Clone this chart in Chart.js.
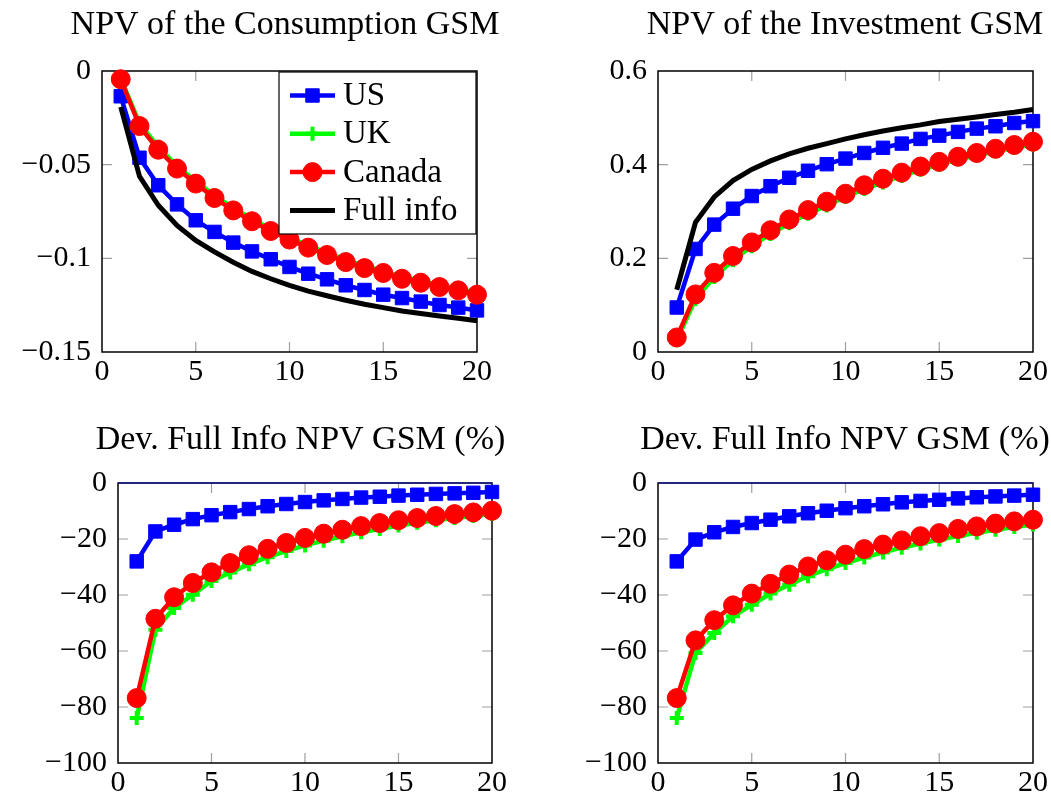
<!DOCTYPE html>
<html>
<head>
<meta charset="utf-8">
<script src="https://cdn.jsdelivr.net/npm/chart.js@4/dist/chart.umd.min.js"></script>
<style>
  body { margin: 0; background: #fff; width: 1051px; height: 797px; position: relative; overflow: hidden; }
  .panel { position: absolute; }
</style>
</head>
<body>
<div class="panel" style="left:0;top:0;width:600px;height:400px"><canvas id="c1"></canvas></div>
<div class="panel" style="left:540px;top:0;width:640px;height:400px"><canvas id="c2"></canvas></div>
<div class="panel" style="left:0;top:400px;width:620px;height:397px"><canvas id="c3"></canvas></div>
<div class="panel" style="left:540px;top:400px;width:640px;height:397px"><canvas id="c4"></canvas></div>
<script>
// horizon (x axis)
const steps = [1, 2, 3, 4, 5, 6, 7, 8, 9, 10, 11, 12, 13, 14, 15, 16, 17, 18, 19, 20];
const seriesNames = ["US", "UK", "Canada", "Full info"];

// NPV of the consumption GSM
const consUS = [-0.0135, -0.0463, -0.0610, -0.0712, -0.0797, -0.0859, -0.0916, -0.0963, -0.1005, -0.1046,
                -0.1082, -0.1112, -0.1144, -0.1169, -0.1194, -0.1212, -0.1231, -0.1249, -0.1263, -0.1278];
const consUK = [-0.0040, -0.0280, -0.0405, -0.0507, -0.0588, -0.0665, -0.0731, -0.0790, -0.0842, -0.0889,
                -0.0932, -0.0971, -0.1008, -0.1041, -0.1068, -0.1098, -0.1120, -0.1143, -0.1162, -0.1185];
const consCA = [-0.0044, -0.0294, -0.0420, -0.0521, -0.0601, -0.0678, -0.0744, -0.0802, -0.0854, -0.0900,
                -0.0943, -0.0982, -0.1020, -0.1052, -0.1078, -0.1109, -0.1130, -0.1153, -0.1171, -0.1194];
const consFull = [-0.0192, -0.0562, -0.0717, -0.0824, -0.0904, -0.0966, -0.1021, -0.1070, -0.1109, -0.1144,
                  -0.1175, -0.1200, -0.1224, -0.1245, -0.1263, -0.1281, -0.1295, -0.1308, -0.1320, -0.1333];

// NPV of the investment GSM
const invUS = [0.095, 0.220, 0.272, 0.306, 0.333, 0.354, 0.372, 0.387, 0.401, 0.413,
               0.425, 0.436, 0.445, 0.455, 0.462, 0.470, 0.477, 0.482, 0.489, 0.493];
const invUK = [0.025, 0.113, 0.160, 0.196, 0.226, 0.252, 0.275, 0.295, 0.313, 0.331,
               0.348, 0.362, 0.376, 0.389, 0.400, 0.411, 0.420, 0.428, 0.436, 0.443];
const invCA = [0.031, 0.123, 0.169, 0.205, 0.234, 0.260, 0.283, 0.303, 0.321, 0.338,
               0.356, 0.370, 0.383, 0.396, 0.406, 0.417, 0.425, 0.434, 0.442, 0.449];
const invFull = [0.133, 0.277, 0.331, 0.366, 0.390, 0.408, 0.423, 0.435, 0.445, 0.455,
                 0.464, 0.472, 0.479, 0.485, 0.492, 0.497, 0.502, 0.507, 0.512, 0.518];

// deviation from full info, consumption (%)
const devConsUS = [-28.0, -17.3, -14.9, -12.9, -11.5, -10.4, -9.3, -8.3, -7.5, -6.8,
                   -6.2, -5.7, -5.2, -4.9, -4.5, -4.2, -3.9, -3.7, -3.5, -3.2];
const devConsUK = [-83.9, -52.4, -44.6, -39.9, -35.0, -32.0, -29.0, -26.5, -24.3, -22.3,
                   -20.6, -19.0, -17.6, -16.4, -15.2, -14.2, -13.3, -12.5, -11.8, -11.1];
const devConsCA = [-76.8, -48.5, -40.8, -35.7, -31.9, -28.6, -25.8, -23.5, -21.4, -19.6,
                   -18.1, -16.7, -15.4, -14.3, -13.3, -12.5, -11.8, -11.1, -10.5, -9.9];

// deviation from full info, investment (%)
const devInvUS = [-28.0, -20.2, -17.6, -15.7, -14.3, -13.1, -11.9, -10.8, -9.9, -9.0,
                  -8.3, -7.6, -6.9, -6.4, -6.0, -5.5, -5.1, -4.8, -4.5, -4.2];
const devInvUK = [-83.9, -60.7, -53.6, -47.6, -43.5, -39.5, -36.3, -33.3, -30.8, -28.6,
                  -26.6, -24.8, -23.1, -21.6, -20.2, -18.9, -17.8, -16.7, -15.7, -14.8];
const devInvCA = [-76.8, -56.2, -49.0, -43.7, -39.5, -36.0, -32.7, -29.8, -27.6, -25.6,
                  -23.6, -22.0, -20.5, -19.0, -17.9, -16.4, -15.5, -14.5, -13.7, -13.1];

// tick values
const xTicks = [0, 5, 10, 15, 20];
const consTicks = [-0.15, -0.1, -0.05, 0];
const invTicks = [0, 0.2, 0.4, 0.6];
const devTicks = [-100, -80, -60, -40, -20, 0];

Chart.defaults.font.family = "'Liberation Serif', serif";
Chart.defaults.color = "#000";

const styles = [
  { borderColor: "#0000ff", backgroundColor: "#0000ff", pointStyle: "rect", pointRadius: 9.5, pointBorderWidth: 1, order: 4 },
  { borderColor: "#00ff00", backgroundColor: "#00ff00", pointStyle: "cross", pointRadius: 7, pointBorderWidth: 4, order: 3 },
  { borderColor: "#ff0000", backgroundColor: "#ff0000", pointStyle: "circle", pointRadius: 9.5, pointBorderWidth: 1, order: 2 },
  { borderColor: "#000000", backgroundColor: "#000000", pointStyle: false, pointRadius: 0, pointBorderWidth: 0, order: 1 }
];

function fmt(v) {
  return String(Number(v.toFixed(4))).replace("-", "\u2212");
}

// pgfplots-like frame: inward ticks on all four sides + black box
const frame = {
  id: "frame",
  beforeDatasetsDraw(chart, args, opts) {
    const { ctx, chartArea: a, scales } = chart;
    const len = 10;
    ctx.save();
    ctx.strokeStyle = "#a0a0a0";
    ctx.lineWidth = 1.2;
    ctx.beginPath();
    scales.x.ticks.forEach(t => {
      const px = scales.x.getPixelForValue(t.value);
      if (px <= a.left + 1 || px >= a.right - 1) return;
      ctx.moveTo(px, a.top); ctx.lineTo(px, a.top + len);
      ctx.moveTo(px, a.bottom); ctx.lineTo(px, a.bottom - len);
    });
    scales.y.ticks.forEach(t => {
      const py = scales.y.getPixelForValue(t.value);
      if (py <= a.top + 1 || py >= a.bottom - 1) return;
      ctx.moveTo(a.left, py); ctx.lineTo(a.left + len, py);
      ctx.moveTo(a.right, py); ctx.lineTo(a.right - len, py);
    });
    ctx.stroke();
    ctx.lineWidth = 1.5;
    ctx.strokeStyle = "#000";
    ctx.strokeRect(a.left, a.top, a.right - a.left, a.bottom - a.top);
    if (opts.topColor) {
      ctx.strokeStyle = opts.topColor;
      ctx.beginPath();
      ctx.moveTo(a.left, a.top); ctx.lineTo(a.right, a.top);
      ctx.stroke();
    }
    ctx.restore();
  }
};

// boxed legend in the upper right corner of the plot area
const boxLegend = {
  id: "boxLegend",
  afterDatasetsDraw(chart, args, opts) {
    if (!opts.show) return;
    const { ctx, chartArea: a } = chart;
    const w = 197, h = 162;
    const x0 = a.right - w - 1, y0 = a.top + 1;
    ctx.save();
    ctx.fillStyle = "#fff";
    ctx.fillRect(x0, y0, w, h);
    ctx.strokeStyle = "#000";
    ctx.lineWidth = 1.2;
    ctx.strokeRect(x0, y0, w, h);
    chart.data.datasets.forEach((ds, i) => {
      const cy = y0 + 23.5 + i * 38.3;
      ctx.strokeStyle = ds.borderColor;
      ctx.fillStyle = ds.backgroundColor;
      ctx.lineWidth = ds.borderWidth;
      ctx.beginPath();
      ctx.moveTo(x0 + 11, cy); ctx.lineTo(x0 + 56, cy);
      ctx.stroke();
      if (ds.pointRadius > 0) {
        ctx.lineWidth = ds.pointBorderWidth;
        Chart.helpers.drawPoint(ctx, {
          pointStyle: ds.pointStyle, radius: ds.pointRadius,
          borderWidth: ds.pointBorderWidth, rotation: 0
        }, x0 + 33.5, cy);
      }
      ctx.fillStyle = "#000";
      ctx.font = "33px 'Liberation Serif', serif";
      ctx.textBaseline = "middle";
      ctx.textAlign = "left";
      ctx.fillText(ds.label, x0 + 64, cy + 1);
    });
    ctx.restore();
  }
};

// yw = width of the labelled left axis, rw = width of an empty right axis
// (the empty axis only balances the title so it sits over the plot)
function makeChart(id, title, series, yMin, yMax, yTicks, box) {
  const datasets = series.map((vals, i) => Object.assign({
    label: seriesNames[i],
    data: steps.map((s, k) => ({ x: s, y: vals[k] })),
    borderWidth: i === 3 ? 5 : 4.5,
    tension: 0,
    clip: false
  }, styles[i]));

  return new Chart(document.getElementById(id), {
    type: "line",
    data: { datasets },
    options: {
      responsive: true,
      maintainAspectRatio: false,
      animation: false,
      layout: { padding: { left: 0, right: box.pr, top: 0, bottom: 0 } },
      plugins: {
        legend: { display: false },
        tooltip: { enabled: false },
        title: {
          display: true,
          text: title,
          color: "#000",
          font: { size: 34, weight: "normal", lineHeight: 1.2 },
          padding: { top: box.tTop, bottom: box.tBottom }
        },
        frame: { topColor: box.topColor },
        boxLegend: { show: !!box.legend }
      },
      scales: {
        x: {
          type: "linear",
          min: 0, max: 20,
          afterBuildTicks: s => { s.ticks = xTicks.map(v => ({ value: v })); },
          afterFit: s => { s.height = box.xh; },
          grid: { display: false, drawTicks: false },
          border: { display: false },
          ticks: { font: { size: 30 }, padding: 2, maxRotation: 0, callback: v => fmt(v) }
        },
        y: {
          min: yMin, max: yMax,
          afterBuildTicks: s => { s.ticks = yTicks.map(v => ({ value: v })); },
          afterFit: s => { s.width = box.yw; },
          grid: { display: false, drawTicks: false },
          border: { display: false },
          ticks: { font: { size: 30 }, padding: 11, callback: v => fmt(v) }
        },
        yr: {
          position: "right",
          min: yMin, max: yMax,
          afterFit: s => { s.width = box.rw; },
          grid: { display: false, drawTicks: false },
          border: { display: false },
          ticks: { display: false }
        }
      }
    },
    plugins: [frame, boxLegend]
  });
}

makeChart("c1", "NPV of the Consumption GSM", [consUS, consUK, consCA, consFull], -0.15, 0, consTicks,
  { yw: 102, rw: 93, pr: 30, tTop: 5, tBottom: 25.2, xh: 48, legend: true });
makeChart("c2", "NPV of the Investment GSM", [invUS, invUK, invCA, invFull], 0, 0.6, invTicks,
  { yw: 118, rw: 117, pr: 30, tTop: 5, tBottom: 25.2, xh: 48 });
makeChart("c3", "Dev. Full Info NPV GSM (%)", [devConsUS, devConsUK, devConsCA], -100, 0, devTicks,
  { yw: 118, rw: 109, pr: 19, tTop: 19.6, tBottom: 22.6, xh: 34, topColor: "#1c1c90" });
makeChart("c4", "Dev. Full Info NPV GSM (%)", [devInvUS, devInvUK, devInvCA], -100, 0, devTicks,
  { yw: 118, rw: 117, pr: 30, tTop: 19.6, tBottom: 22.6, xh: 34, topColor: "#1c1c90" });
</script>
</body>
</html>
